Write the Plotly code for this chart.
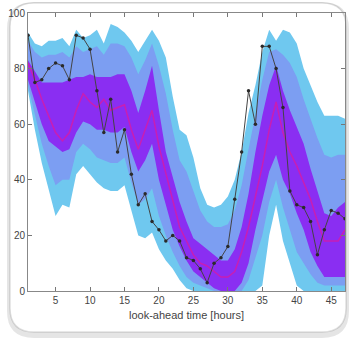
import plotly.graph_objects as go

hours = list(range(1, 48))

observed = [92, 75, 76, 80, 82, 81, 76, 92, 91, 87, 72, 57, 69, 50, 58, 42, 31, 35, 25, 22,
            18, 20, 18, 12, 11, 8, 3, 10, 12, 16, 33, 50, 72, 60, 88, 88, 80, 66, 36, 31,
            30, 25, 13, 22, 29, 28, 26]

median = [82, 76, 69, 63, 57, 54, 57, 65, 71, 68, 66, 69, 65, 66, 67, 58, 51, 58, 65, 52,
          42, 32, 23, 18, 13, 10, 9, 7, 5, 5, 7, 14, 23, 34, 45, 58, 68, 57, 50, 45,
          39, 33, 25, 18, 18, 18, 22]

outer_hi = [93, 89, 88, 90, 90, 91, 88, 94, 91, 92, 94, 89, 96, 95, 93, 90, 86, 90, 94, 90,
            84, 70, 58, 56, 48, 37, 31, 30, 31, 34, 40, 50, 64, 74, 86, 94, 90, 94, 93, 89,
            80, 74, 68, 63, 63, 63, 62]
outer_lo = [72, 58, 46, 36, 27, 31, 30, 42, 45, 42, 39, 37, 36, 36, 38, 29, 20, 19, 21, 15,
            11, 8, 4, 1, 0, 0, 0, 0, 0, 0, 0, 0, 0, 0, 2, 20, 31, 18, 10, 2,
            0, 0, 0, 0, 0, 0, 0]

mid_hi = [90, 86, 84, 85, 85, 86, 84, 88, 86, 87, 88, 85, 89, 89, 88, 84, 78, 83, 89, 81,
          71, 58, 47, 43, 36, 29, 25, 23, 23, 24, 29, 38, 51, 63, 76, 86, 87, 85, 82, 77,
          69, 62, 55, 49, 48, 49, 49]
mid_lo = [74, 63, 53, 45, 38, 40, 40, 50, 53, 51, 48, 47, 46, 46, 48, 39, 31, 33, 37, 27,
          20, 14, 9, 5, 3, 2, 1, 0, 0, 0, 0, 0, 4, 12, 20, 32, 40, 30, 22, 14,
          10, 6, 3, 2, 2, 2, 2]

inner_hi = [83, 79, 75, 75, 75, 75, 76, 77, 77, 78, 77, 77, 77, 78, 78, 72, 64, 72, 81, 65,
            50, 41, 32, 25, 19, 17, 15, 13, 11, 11, 15, 23, 35, 50, 63, 74, 81, 72, 65, 59,
            53, 44, 36, 28, 27, 30, 32]
inner_lo = [76, 68, 60, 54, 52, 50, 51, 57, 61, 60, 58, 58, 57, 57, 59, 50, 43, 47, 53, 40,
            31, 22, 16, 11, 7, 5, 3, 1, 0, 0, 0, 3, 10, 22, 33, 43, 49, 40, 35, 28,
            22, 14, 9, 5, 5, 5, 5]

x_ticks = [5, 10, 15, 20, 25, 30, 35, 40, 45]
y_ticks = [0, 20, 40, 60, 80, 100]
x_title = "look-ahead time [hours]"

band_colors = ["#6fc8ef", "#7c9ef2", "#8a2ef2"]
bands = [(outer_lo, outer_hi), (mid_lo, mid_hi), (inner_lo, inner_hi)]

fig = go.Figure()
for (lo, hi), col in zip(bands, band_colors):
    fig.add_trace(go.Scatter(x=hours, y=lo, mode="lines", line=dict(width=0, color=col),
                             showlegend=False, hoverinfo="skip"))
    fig.add_trace(go.Scatter(x=hours, y=hi, mode="lines", line=dict(width=0, color=col),
                             fill="tonexty", fillcolor=col, showlegend=False, hoverinfo="skip"))

fig.add_trace(go.Scatter(x=hours, y=median, mode="lines",
                         line=dict(color="#c81eb4", width=1.5), showlegend=False))
fig.add_trace(go.Scatter(x=hours, y=observed, mode="lines+markers",
                         line=dict(color="#444444", width=1),
                         marker=dict(color="#2a2a2a", size=3.5), showlegend=False))

# card outline (rounded rectangle) in paper coords
L, T, W, H = 28, 13, 317, 278
def px(x):
    return (x - L) / W
def py(y):
    return (T + H - y) / H

def rrect(x0, y0, x1, y1, r):
    return (f"M {px(x0 + r)},{py(y0)} L {px(x1 - r)},{py(y0)} "
            f"Q {px(x1)},{py(y0)} {px(x1)},{py(y0 + r)} L {px(x1)},{py(y1 - r)} "
            f"Q {px(x1)},{py(y1)} {px(x1 - r)},{py(y1)} L {px(x0 + r)},{py(y1)} "
            f"Q {px(x0)},{py(y1)} {px(x0)},{py(y1 - r)} L {px(x0)},{py(y0 + r)} "
            f"Q {px(x0)},{py(y0)} {px(x0 + r)},{py(y0)} Z")

shapes = [
    dict(type="path", xref="paper", yref="paper", path=rrect(10, 5, 346, 335, 24),
         line=dict(color="rgba(0,0,0,0.10)", width=6), layer="below"),
    dict(type="path", xref="paper", yref="paper", path=rrect(10, 3, 346, 332, 24),
         line=dict(color="rgba(0,0,0,0.12)", width=1.5), fillcolor="white", layer="below"),
]

axis_common = dict(showline=True, linecolor="#888", linewidth=1, mirror="ticks",
                   ticks="inside", ticklen=4, tickcolor="#777", showgrid=False,
                   zeroline=False, automargin=False,
                   tickfont=dict(family="Liberation Sans", size=10, color="#444"))

fig.update_layout(
    width=349, height=345,
    margin=dict(l=L, r=349 - L - W, t=T, b=345 - T - H, autoexpand=False),
    paper_bgcolor="white", plot_bgcolor="rgba(0,0,0,0)",
    shapes=shapes,
    xaxis=dict(range=[1, 47], tickvals=x_ticks, ticktext=[str(v) for v in x_ticks],
               title=dict(text=x_title, font=dict(family="Liberation Sans", size=11, color="#444"),
                          standoff=6), **axis_common),
    yaxis=dict(range=[0, 100], tickvals=y_ticks, ticktext=[str(v) for v in y_ticks], **axis_common),
)

fig.write_html("out.html", config={"displayModeBar": False},
               post_script="document.body.style.margin='0';")
